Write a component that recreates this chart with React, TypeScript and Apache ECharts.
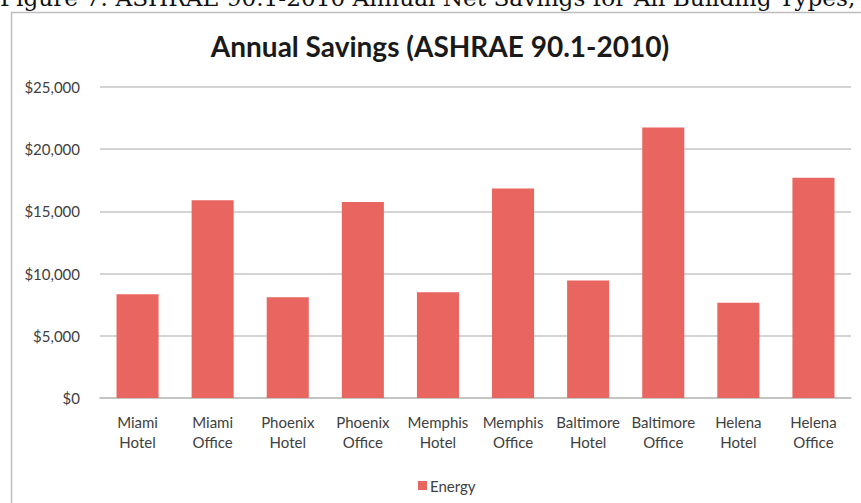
import React, { useEffect, useRef } from "react";
import * as echarts from "echarts";

const categories = [
  "Miami\nHotel",
  "Miami\nOffice",
  "Phoenix\nHotel",
  "Phoenix\nOffice",
  "Memphis\nHotel",
  "Memphis\nOffice",
  "Baltimore\nHotel",
  "Baltimore\nOffice",
  "Helena\nHotel",
  "Helena\nOffice",
];
const energy = [8350, 15900, 8100, 15750, 8500, 16850, 9450, 21750, 7650, 17700];
const seriesName = "Energy";
const chartTitle = "Annual Savings (ASHRAE 90.1-2010)";
const caption = "Figure 7: ASHRAE 90.1-2010 Annual Net Savings for All Building Types,";

export default function App() {
  const ref = useRef<HTMLDivElement>(null);
  useEffect(() => {
    if (!ref.current) return;
    const chart = echarts.init(ref.current, null, { renderer: "svg" });
    const font = "Lato, 'Open Sans', sans-serif";
    chart.setOption({
      animation: false,
      backgroundColor: "#ffffff",
      textStyle: { fontFamily: font },
      title: {
        text: chartTitle,
        left: 435,
        top: 27,
        textAlign: "center",
        textStyle: { fontFamily: font, fontSize: 28, fontWeight: "bold", color: "#1a1a1a" },
      },
      graphic: [
        {
          type: "text",
          left: 0,
          top: -14.5,
          style: {
            text: caption,
            fontFamily: "'DejaVu Serif', serif",
            fontSize: 23.2,
            fill: "#111111",
          },
        },
        {
          type: "line",
          shape: { x1: 11, y1: 12.5, x2: 861, y2: 12.5 },
          style: { stroke: "#bdbdbd", lineWidth: 1.5 },
        },
        {
          type: "line",
          shape: { x1: 11.5, y1: 12, x2: 11.5, y2: 503 },
          style: { stroke: "#bdbdbd", lineWidth: 1.5 },
        },
      ],
      legend: {
        data: [seriesName],
        left: 413,
        top: 473,
        itemWidth: 9,
        itemHeight: 9,
        itemGap: 4,
        icon: "rect",
        textStyle: { fontFamily: font, fontSize: 15, color: "#404040", padding: [0, 0, 0, -2] },
      },
      grid: { left: 100, right: 10, top: 87, bottom: 105, containLabel: false },
      xAxis: {
        type: "category",
        data: categories,
        axisLine: { lineStyle: { color: "#bfbfbf", width: 1.5 } },
        axisTick: { show: false },
        axisLabel: {
          interval: 0,
          fontFamily: font,
          fontSize: 15,
          color: "#404040",
          lineHeight: 20,
          margin: 14,
        },
      },
      yAxis: {
        type: "value",
        min: 0,
        max: 25000,
        interval: 5000,
        axisLine: { show: false },
        axisTick: { show: false },
        axisLabel: {
          fontFamily: font,
          fontSize: 15,
          color: "#404040",
          margin: 20,
          formatter: (v: number) => "$" + v.toLocaleString("en-US"),
        },
        splitLine: { lineStyle: { color: "#c6c6c6", width: 1.5 } },
      },
      series: [
        {
          name: seriesName,
          type: "bar",
          data: energy,
          barCategoryGap: "44%",
          itemStyle: { color: "#e9655f" },
        },
      ],
    });
    return () => chart.dispose();
  }, []);
  return (
    <div
      ref={ref}
      style={{ position: "fixed", left: 0, top: 0, width: 861, height: 503 }}
    />
  );
}
